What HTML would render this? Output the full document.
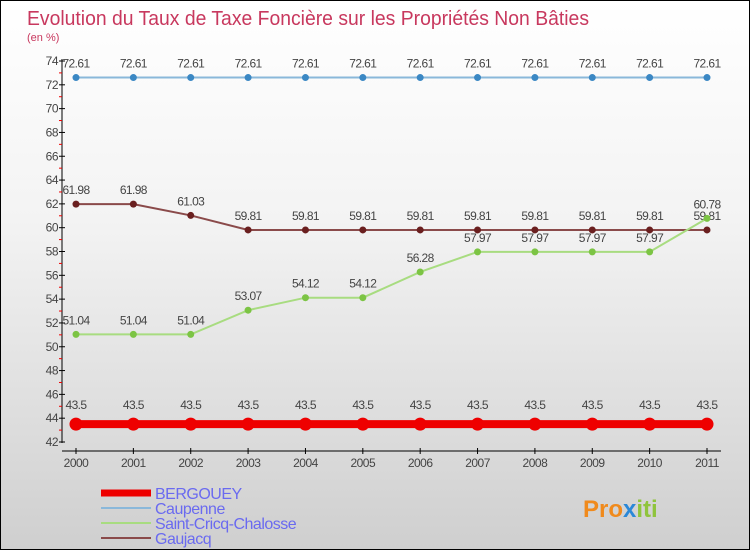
<!DOCTYPE html>
<html><head><meta charset="utf-8"><style>
body{margin:0}
#wrap{width:748px;height:548px;border:1px solid #000;background:linear-gradient(#fff,#f3f3f3 40%,#cfcfcf);position:relative;font-family:"Liberation Sans",sans-serif}
text{font-family:"Liberation Sans",sans-serif}
</style></head><body>
<div id="wrap">
<svg id="c" width="748" height="548">
<text x="26" y="24" font-size="20" fill="#c8385e" font-weight="300" textLength="562" lengthAdjust="spacingAndGlyphs">Evolution du Taux de Taxe Foncière sur les Propriétés Non Bâties</text>
<text x="26" y="40" font-size="11" fill="#c8385e">(en %)</text>
<g><text x="582" y="516" font-size="24" font-weight="bold" fill="#f08a1c">Pro<tspan fill="#2a88d8">x</tspan><tspan fill="#8fc43c">iti</tspan></text></g>
</svg>
</div>
<script>
const years=["2000","2001","2002","2003","2004","2005","2006","2007","2008","2009","2010","2011"];
const bergouey=[43.5,43.5,43.5,43.5,43.5,43.5,43.5,43.5,43.5,43.5,43.5,43.5];
const caupenne=[72.61,72.61,72.61,72.61,72.61,72.61,72.61,72.61,72.61,72.61,72.61,72.61];
const saintCricq=[51.04,51.04,51.04,53.07,54.12,54.12,56.28,57.97,57.97,57.97,57.97,60.78];
const gaujacq=[61.98,61.98,61.03,59.81,59.81,59.81,59.81,59.81,59.81,59.81,59.81,59.81];
const yTicks=[42,44,46,48,50,52,54,56,58,60,62,64,66,68,70,72,74];
const svg=document.getElementById('c');const NS='http://www.w3.org/2000/svg';
function X(i){return 75+i*(706-75)/(years.length-1);}
function Y(v){return 441-(v-42)*(441-60)/(74-42);}
function mk(t,a,p){const e=document.createElementNS(NS,t);for(const k in a)e.setAttribute(k,a[k]);(p||svg).appendChild(e);return e;}
const ax=mk('g',{});


mk('line',{x1:61,y1:58,x2:61,y2:442,stroke:'#000'},ax);
mk('line',{x1:61,y1:450,x2:720,y2:450,stroke:'#000'},ax);
yTicks.forEach((v,i)=>{const y=Y(v);mk('line',{x1:58,y1:y,x2:64,y2:y,stroke:'#000'},ax);
 if(i<yTicks.length-1)mk('line',{x1:58,y1:(y+Y(v+2))/2,x2:61,y2:(y+Y(v+2))/2,stroke:'#e00'},ax);
 const t=mk('text',{x:57,y:y+4,'font-size':12,fill:'#444','text-anchor':'end','letter-spacing':'-0.5'},ax);t.textContent=v;
 
 });
years.forEach((yr,i)=>{const x=X(i);mk('line',{x1:x,y1:447,x2:x,y2:453,stroke:'#000'},ax);
 const t=mk('text',{x:x,y:466,'font-size':12,fill:'#444','text-anchor':'middle','letter-spacing':'-0.5'},ax);t.textContent=yr;
 
 });
function series(name,data,col,w,r,dot,labOff){
 const g=mk('g',{});
 
 
 mk('polyline',{points:data.map((v,i)=>X(i)+','+Y(v)).join(' '),fill:'none',stroke:col,'stroke-width':w},g);
 data.forEach((v,i)=>{const c=mk('circle',{cx:X(i),cy:Y(v),r:r,fill:dot},g);
  
  
  const t=mk('text',{x:X(i),y:Y(v)+labOff,'font-size':12,fill:'#444','text-anchor':'middle','letter-spacing':'-0.6'},g);t.textContent=v;
  
  });
}
series('caupenne',caupenne,'#8ab8da',2,3.5,'#3b88c4',-10);
series('gaujacq',gaujacq,'#8a4a4a',2,3.5,'#6a1f1f',-10);
series('saint-cricq',saintCricq,'#a8dc80',2,3.5,'#7cc444',-10);
series('bergouey',bergouey,'#ee0000',8,6.5,'#ee0000',-15);
const lg=mk('g',{});


[['BERGOUEY','#ee0000',7],['Caupenne','#8ab8da',2],['Saint-Cricq-Chalosse','#a8dc80',2],['Gaujacq','#8a4a4a',2]].forEach((d,i)=>{
 const y=492+i*15;mk('line',{x1:100,y1:y,x2:150,y2:y,stroke:d[1],'stroke-width':d[2]},lg);
 const t=mk('text',{x:154,y:y+6,'font-size':16,fill:'#6a6af0','letter-spacing':'-0.5'},lg);t.textContent=d[0];
 
 });
</script>
</body></html>
